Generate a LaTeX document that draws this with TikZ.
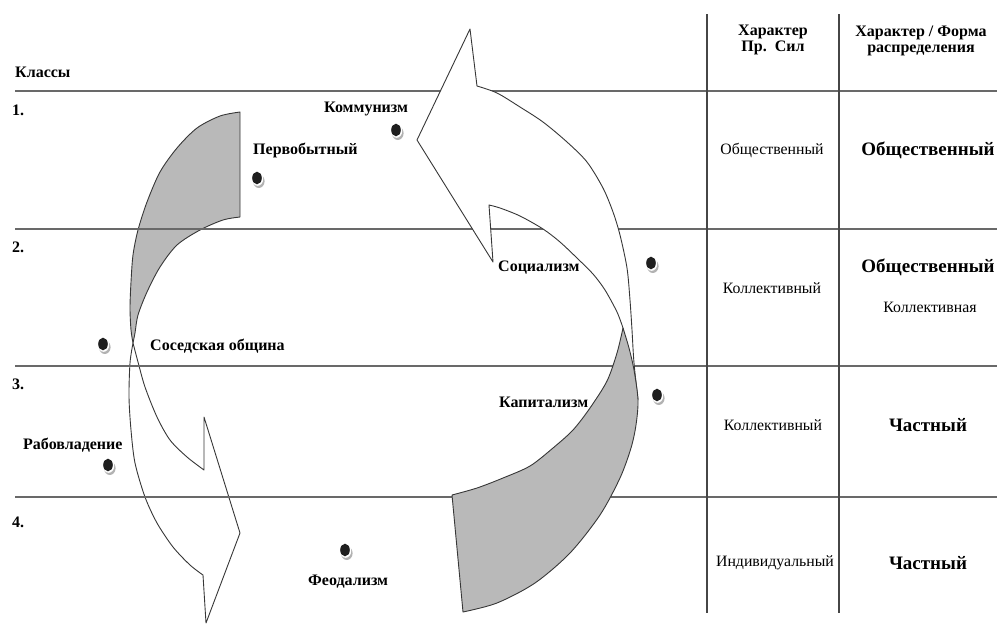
\documentclass[tikz,border=0pt]{standalone}
\usepackage{fontspec}
\setmainfont{Liberation Serif}
\definecolor{ribbon}{RGB}{185,185,185}
\definecolor{edge}{RGB}{55,55,55}
\definecolor{hrule}{RGB}{105,105,105}
\definecolor{vrule}{RGB}{70,70,70}
\begin{document}
\begin{tikzpicture}[x=1pt,y=-1pt,
  lbl/.style={font=\bfseries\fontsize{16}{17}\selectfont, inner sep=0pt, anchor=west},
  hdr/.style={font=\bfseries\fontsize{16}{16}\selectfont, inner sep=0pt, align=center},
  cell/.style={font=\fontsize{15.8}{17}\selectfont, inner sep=0pt},
  cellb/.style={font=\bfseries\fontsize{19}{20}\selectfont, inner sep=0pt},
  outline/.style={draw=edge, line width=0.9pt, line join=round},
  hline/.style={draw=hrule, line width=1.6pt},
  vline/.style={draw=vrule, line width=1.6pt},
  bead/.pic={
    \fill[black!30] (1.8,3.2) ellipse (5.8 and 6.8);
    \fill[white] (0.6,1.0) ellipse (5.6 and 6.8);
    \fill[black!88] (0,0) ellipse (4.8 and 6.3);
  }]
\useasboundingbox (0,0) rectangle (997,624);

% left ribbon arrow (behind the rules)
\filldraw[outline, fill=ribbon]
  (240,112) -- (240,217)
  -- plot[smooth] coordinates {(240,217) (223,220) (200,230) (177,245) (160,267) (147,292) (138,315) (135,333) (133,343)}
  -- plot[smooth] coordinates {(133,343) (131,330) (130,308) (131,282) (133,255) (138,230) (147,202) (160,172) (177,148) (197,128) (220,116) (240,112)}
  -- cycle;
\filldraw[outline, fill=white]
  plot[smooth] coordinates {(133,343) (130,363) (129,397) (131,430) (135,463) (145,497) (157,523) (173,547) (190,565) (203,575)}
  -- (206,623) -- (240,533) -- (204,417) -- (204,470)
  -- plot[smooth] coordinates {(204,470) (187,457) (170,440) (157,417) (145,387) (138,362) (133,343)}
  -- cycle;

% rules
\coordinate (hA1) at (15,91);  \coordinate (hA2) at (997,91);
\coordinate (hB1) at (15,229); \coordinate (hB2) at (997,229);
\coordinate (hC1) at (15,366); \coordinate (hC2) at (997,366);
\coordinate (hD1) at (15,497); \coordinate (hD2) at (997,497);
\coordinate (vA1) at (707,14); \coordinate (vA2) at (707,613);
\coordinate (vB1) at (839,14); \coordinate (vB2) at (839,613);
\draw[hline] (hA1) -- (hA2);
\draw[hline] (hB1) -- (hB2);
\draw[hline] (hC1) -- (hC2);
\draw[hline] (hD1) -- (hD2);
\draw[vline] (vA1) -- (vA2);
\draw[vline] (vB1) -- (vB2);

% right ribbon arrow (in front of the rules)
\filldraw[outline, fill=white]
  plot[smooth] coordinates {(477,86) (497,93) (520,107) (543,122) (567,142) (587,162) (603,188) (613,212) (620,235) (627,268) (630,300) (632,330) (634,363) (638,400)}
  -- (623,328)
  -- plot[smooth] coordinates {(623,328) (617,312) (605,290) (593,274) (578,259) (560,242) (543,229) (520,216) (500,208) (489,205)}
  -- (493,262) -- (417,140) -- (470,29) -- cycle;
\filldraw[outline, fill=ribbon]
  plot[smooth] coordinates {(623,328) (629,348) (634,370) (638,400) (636,425) (631,448) (620,478) (600,515) (570,553) (535,583) (497,603) (463,612)}
  -- (452,495)
  -- plot[smooth] coordinates {(452,495) (477,488) (503,478) (530,466) (553,448) (573,430) (590,408) (607,381) (617,353) (623,328)}
  -- cycle;

% left column labels
\node[lbl] (klassy) at (15,72) {Классы};
\node[lbl] (n1) at (12,110) {1.};
\node[lbl] (n2) at (12,247) {2.};
\node[lbl] (n3) at (12,384) {3.};
\node[lbl] (n4) at (12,522) {4.};

% formation labels
\node[lbl] (kom) at (324,109) {Коммунизм};
\node[lbl] (perv) at (253,150) {Первобытный};
\node[lbl] (soc) at (498,268) {Социализм};
\node[lbl] (sos) at (150,346) {Соседская община};
\node[lbl] (rab) at (23,445) {Рабовладение};
\node[lbl] (feo) at (308,582) {Феодализм};
\node[lbl] (kap) at (499,402) {Капитализм};

% dots
\pic (dkom) at (396,130) {bead};
\pic (dperv) at (257,178) {bead};
\pic (dsoc) at (651,263) {bead};
\pic (dsos) at (103,344) {bead};
\pic (drab) at (108,465) {bead};
\pic (dfeo) at (345,550) {bead};
\pic (dkap) at (657,395) {bead};

% table
\node[hdr] (h1) at (773,40) {Характер\\Пр.~~Сил};
\node[hdr] (h2) at (921,41) {Характер / Форма\\распределения};
\node[cell] (r1a) at (772,150) {Общественный};
\node[cellb] (r1b) at (928,150) {Общественный};
\node[cell] (r2a) at (772,288) {Коллективный};
\node[cellb] (r2b) at (928,267) {Общественный};
\node[cell] (r2c) at (930,307) {Коллективная};
\node[cell] (r3a) at (773,425) {Коллективный};
\node[cellb] (r3b) at (928,425) {Частный};
\node[cell] (r4a) at (775,563) {Индивидуальный};
\node[cellb] (r4b) at (928,563) {Частный};
\end{tikzpicture}
\end{document}
